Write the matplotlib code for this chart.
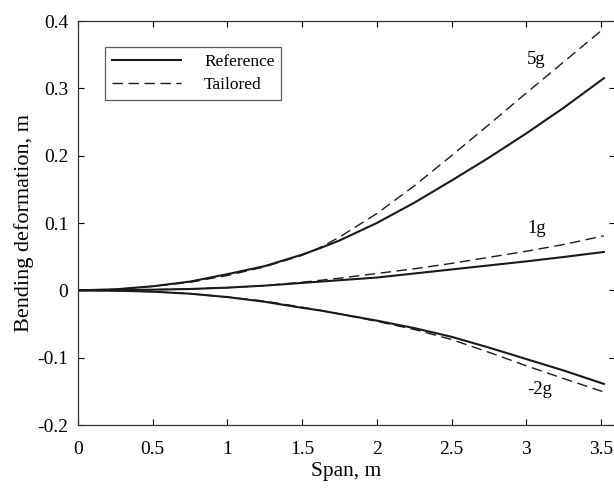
import matplotlib
matplotlib.use("Agg")
import matplotlib.pyplot as plt
import numpy as np

plt.rcParams['font.family'] = ['Liberation Serif', 'DejaVu Serif']
plt.rcParams['axes.unicode_minus'] = False

span = [0, 0.25, 0.5, 0.75, 1.0, 1.25, 1.5, 1.625, 1.75, 2.0, 2.25, 2.5, 2.75, 3.0, 3.25, 3.52]

ref_5g = [0, 0.0015, 0.006, 0.013, 0.024, 0.036, 0.053, 0.063, 0.074, 0.100, 0.130, 0.163, 0.197, 0.233, 0.271, 0.315]
tail_5g = [0, 0.0015, 0.006, 0.012, 0.022, 0.035, 0.052, 0.064, 0.079, 0.114, 0.155, 0.200, 0.246, 0.293, 0.339, 0.389]
ref_1g = [0, 0.0003, 0.001, 0.002, 0.004, 0.007, 0.011, 0.013, 0.015, 0.019, 0.025, 0.031, 0.037, 0.043, 0.0495, 0.057]
tail_1g = [0, 0.0003, 0.001, 0.002, 0.004, 0.007, 0.012, 0.015, 0.018, 0.025, 0.032, 0.040, 0.049, 0.058, 0.068, 0.081]
ref_m2g = [0, -0.0005, -0.002, -0.005, -0.010, -0.017, -0.026, -0.030, -0.035, -0.045, -0.056, -0.069, -0.085, -0.102, -0.119, -0.139]
tail_m2g = [0, -0.0005, -0.002, -0.005, -0.010, -0.016, -0.025, -0.030, -0.035, -0.046, -0.058, -0.073, -0.092, -0.112, -0.131, -0.151]

load_labels = ["5g", "1g", "-2g"]
label_pos = [(3.07, 0.343), (3.07, 0.0925), (3.09, -0.148)]

xticks = [0, 0.5, 1, 1.5, 2, 2.5, 3, 3.5]
xticklabels = ["0", "0.5", "1", "1.5", "2", "2.5", "3", "3.5"]
yticks = [-0.2, -0.1, 0, 0.1, 0.2, 0.3, 0.4]
yticklabels = ["-0.2", "-0.1", "0", "0.1", "0.2", "0.3", "0.4"]

fig = plt.figure(figsize=(6.14, 4.88), dpi=100)
left_px, right_px, top_px, bot_px = 78, 615, 21, 425
ax = fig.add_axes([left_px/614, 1-bot_px/488, (right_px-left_px)/614, (bot_px-top_px)/488])

refs = [ref_5g, ref_1g, ref_m2g]
tails = [tail_5g, tail_1g, tail_m2g]
for i, (r, t) in enumerate(zip(refs, tails)):
    ax.plot(span, t, color='#1a1a1a', lw=1.0, ls=(0, (7.5, 4)),
            label='Tailored' if i == 0 else None)
    ax.plot(span, r, color='#1a1a1a', lw=1.5, ls='-',
            label='Reference' if i == 0 else None)

for lab, (x, y) in zip(load_labels, label_pos):
    ax.text(x, y, lab, fontsize=13.5, ha='center', va='center')

ax.set_xlim(0, (right_px-78)/149.4)
ax.set_ylim(-0.2, 0.4)
ax.set_xticks(xticks)
ax.set_xticklabels(xticklabels)
ax.set_yticks(yticks)
ax.set_yticklabels(yticklabels)
ax.tick_params(direction='in', top=True, right=True, length=4, width=0.8,
               labelsize=14)
ax.tick_params(axis='x', pad=11.5)
ax.tick_params(axis='y', pad=7)
for s in ax.spines.values():
    s.set_linewidth(0.9)
    s.set_color('#333333')

ax.set_xlabel('Span, m', fontsize=15.5, labelpad=3)
ax.set_ylabel('Bending deformation, m', fontsize=16, labelpad=2.5)

handles, labels = ax.get_legend_handles_labels()
order = [labels.index('Reference'), labels.index('Tailored')]
leg = ax.legend([handles[i] for i in order], [labels[i] for i in order],
                loc='upper left', bbox_to_anchor=((105-78)/(right_px-78), (425-46.7)/404),
                borderaxespad=0, fontsize=12.5, frameon=True, fancybox=False,
                edgecolor='#333333', handlelength=4.0, handletextpad=1.3,
                borderpad=0.4, labelspacing=0.4)
leg.get_frame().set_linewidth(0.9)

fig.savefig('out.png', dpi=100)
